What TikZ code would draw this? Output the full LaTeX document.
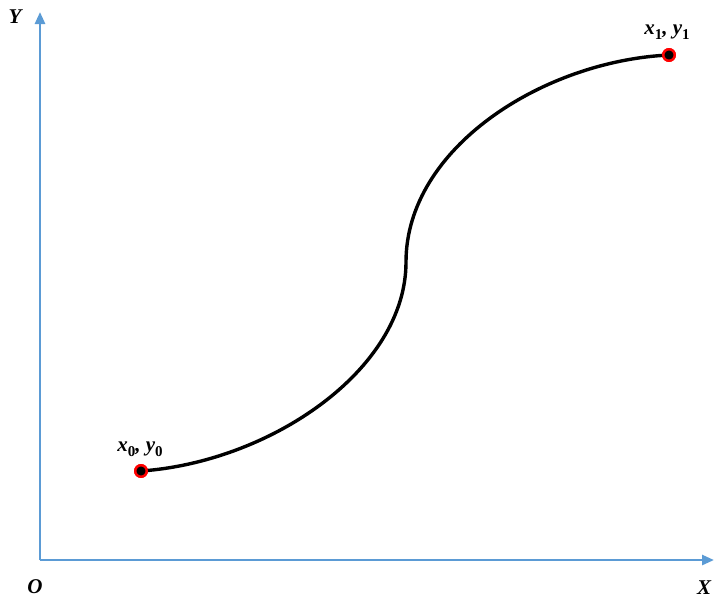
\documentclass[tikz,border=0pt]{standalone}
\usepackage{fontspec}
\setmainfont{Liberation Serif}
\usetikzlibrary{arrows.meta}
\definecolor{axisblue}{RGB}{91,155,213}
\newcommand{\sub}[1]{\raisebox{-0.25em}{\fontsize{15}{17}\selectfont\upshape #1}}
\begin{document}
\begin{tikzpicture}[x=1pt,y=-1pt,
  axis/.style={axisblue,line width=2.6pt,-{Triangle[length=12pt,width=10pt]}},
  curveline/.style={black,line width=3.4pt},
  endpt/.style={circle,fill=black,draw=red,line width=2.4pt,minimum size=11.5pt,inner sep=0pt},
  lbl/.style={font=\fontsize{21}{24}\selectfont\bfseries\itshape,inner sep=0pt}]
\useasboundingbox (0,0) rectangle (715,598);
\coordinate (O) at (40,560);
\coordinate (Ytip) at (40,12);
\coordinate (Xtip) at (714,560);
\draw[axis] (O) -- (Ytip);
\draw[axis] (O) -- (Xtip);
\node[endpt] (p0) at (141,471) {};
\node[endpt] (p1) at (669,55) {};
\coordinate (mid) at (406,262);
\draw[curveline] (p0.center) .. controls (270,462) and (406,370) .. (mid)
  .. controls (406,148) and (543,61) .. (p1.center);
\node[endpt] at (141,471) {};
\node[endpt] at (669,55) {};
\node[lbl] (l0) at (140,449) {x\sub{0}, y\sub{0}};
\node[lbl] (l1) at (667,32) {x\sub{1}, y\sub{1}};
\node[lbl] (ly) at (15,17) {Y};
\node[lbl] (lo) at (35,587) {O};
\node[lbl] (lx) at (704,588) {X};
\end{tikzpicture}
\end{document}
